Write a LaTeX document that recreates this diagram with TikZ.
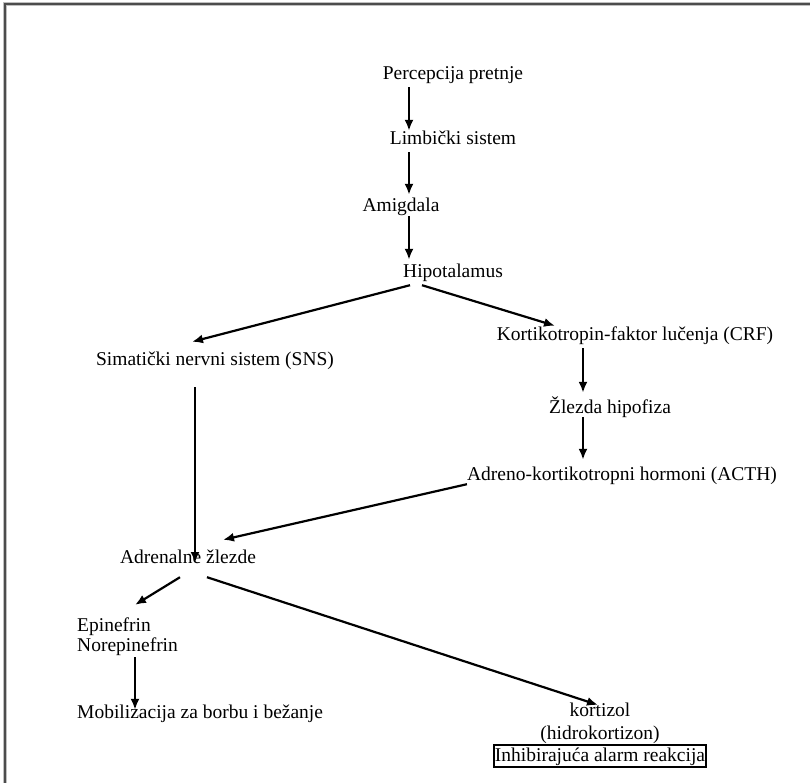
\documentclass[tikz,border=0pt]{standalone}
\usepackage{fontspec}
\setmainfont{Liberation Serif}
\usetikzlibrary{arrows.meta}
\begin{document}
\begin{tikzpicture}[x=1pt,y=-1pt]
	\tikzstyle{every node}=[font=\fontsize{19.5}{20}\selectfont, inner sep=0pt]
	\tikzstyle{lbl}=[text height=14pt, text depth=4pt]
	\tikzstyle{arr}=[-{Latex[length=11pt,width=9pt]}, line width=2.2pt]
	
	\useasboundingbox (0,0) rectangle (810,783);
	\draw [line width=3.5pt, color=black!25] (810,4) -- (5,4) -- (5,783);
	\draw [line width=2pt, color=black!70] (810,4) -- (5,4) -- (5,783);
	
	\node[lbl] (perc) at (453,75) {Percepcija pretnje};
	\node[lbl] (limb) at (453,140) {Limbi\v{c}ki sistem};
	\node[lbl] (amig) at (401,207) {Amigdala};
	\node[lbl] (hip) at (453,272) {Hipotalamus};
	
	\node[lbl] (sns) at (215,360) {Simati\v{c}ki nervni sistem (SNS)};
	\node[lbl] (crf) at (635,335) {Kortikotropin-faktor lu\v{c}enja (CRF)};
	\node[lbl] (zlez) at (610,408) {\v{Z}lezda hipofiza};
	\node[lbl] (acth) at (622,475) {Adreno-kortikotropni hormoni (ACTH)};
	
	\node[lbl] (adr) at (188,558) {Adrenalne \v{z}lezde};
	\node[align=left, anchor=west] (epi) at (77,637) {Epinefrin\\Norepinefrin};
	\node[lbl, anchor=west] (mob) at (77,713) {Mobilizacija za borbu i be\v{z}anje};
	
	\node[align=center, font=\fontsize{19.5}{23}\selectfont] (kort) at (600,723.5) {kortizol\\(hidrokortizon)};
	\node[lbl, draw, line width=1.2pt, inner xsep=1pt, inner ysep=2pt] (inh) at (600,756) {Inhibiraju\'{c}a alarm reakcija};
	
	\draw[arr] ([xshift=-44pt,yshift=-3pt]perc.south) -- ([xshift=-44pt]limb.north);
	\draw[arr] ([xshift=-44pt,yshift=-3pt]limb.south) -- ([xshift=8pt,yshift=3pt]amig.north);
	\draw[arr] ([xshift=8pt]amig.south) -- ([xshift=-44pt,yshift=3pt]hip.north);
	
	\draw[arr] ([xshift=-43pt,yshift=-4pt]hip.south) -- ([xshift=-23pt,yshift=9pt]sns.north);
	\draw[arr] ([xshift=-31pt,yshift=-4pt]hip.south) -- ([xshift=-80pt]crf.north);
	\draw[arr] ([xshift=-52pt,yshift=-4pt]crf.south) -- ([xshift=-27pt,yshift=6pt]zlez.north);
	\draw[arr] ([xshift=-27pt]zlez.south) -- ([xshift=-39pt,yshift=6pt]acth.north);
	
	\draw[arr] (acth.south west) -- ([xshift=35pt,yshift=9pt]adr.north);
	\draw[arr] ([xshift=-20pt,yshift=-18pt]sns.south) -- ([xshift=7pt,yshift=-5pt]adr.center);
	\draw[arr] ([xshift=-8pt,yshift=-10pt]adr.south) -- ([xshift=58pt,yshift=13pt]epi.north west);
	\draw[arr] ([xshift=58pt,yshift=-1pt]epi.south west) -- ([xshift=58pt,yshift=-6pt]mob.north west);
	\draw[arr] ([xshift=19pt,yshift=-10pt]adr.south) -- ([xshift=-2pt,yshift=-2pt]kort.north);
	
\end{tikzpicture}
\end{document}
